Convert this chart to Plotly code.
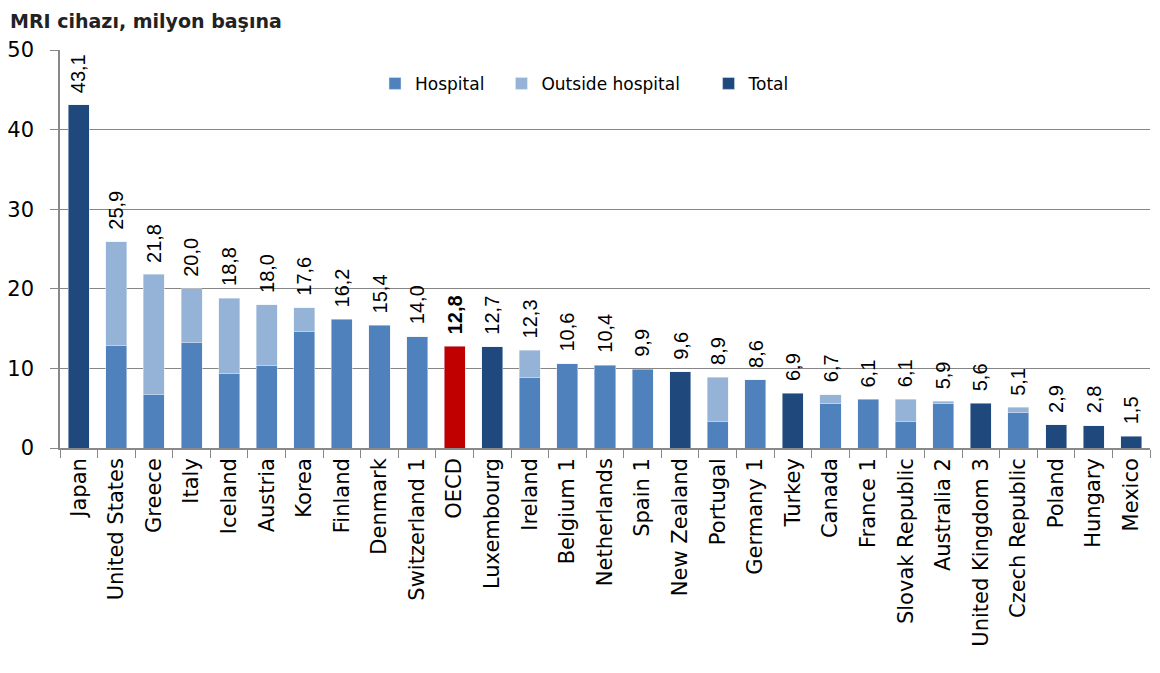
import plotly.graph_objects as go

categories = ["Japan", "United States", "Greece", "Italy", "Iceland", "Austria", "Korea",
              "Finland", "Denmark", "Switzerland 1", "OECD", "Luxembourg", "Ireland",
              "Belgium 1", "Netherlands", "Spain 1", "New Zealand", "Portugal", "Germany 1",
              "Turkey", "Canada", "France 1", "Slovak Republic", "Australia 2",
              "United Kingdom 3", "Czech Republic", "Poland", "Hungary", "Mexico"]

totals = [43.1, 25.9, 21.8, 20.0, 18.8, 18.0, 17.6, 16.2, 15.4, 14.0, 12.8, 12.7, 12.3,
          10.6, 10.4, 9.9, 9.6, 8.9, 8.6, 6.9, 6.7, 6.1, 6.1, 5.9, 5.6, 5.1, 2.9, 2.8, 1.5]

# bar type: H = hospital only, S = split hospital/outside, T = total only, O = OECD
bar_types = ["T", "S", "S", "S", "S", "S", "S", "H", "H", "H", "O", "T", "S",
             "H", "H", "H", "T", "S", "H", "T", "S", "H", "S", "S", "T", "S", "T", "T", "T"]

hospital_part = [None, 12.9, 6.7, 13.2, 9.4, 10.4, 14.6, None, None, None, None, None, 8.9,
                 None, None, None, None, 3.3, None, None, 5.6, None, 3.3, 5.6, None, 4.4,
                 None, None, None]

hospital = []
outside = []
total_only = []
oecd = []
for t, bt, hp in zip(totals, bar_types, hospital_part):
    if bt == "H":
        hospital.append(t); outside.append(None); total_only.append(None); oecd.append(None)
    elif bt == "S":
        hospital.append(hp); outside.append(round(t - hp, 1)); total_only.append(None); oecd.append(None)
    elif bt == "T":
        hospital.append(None); outside.append(None); total_only.append(t); oecd.append(None)
    else:
        hospital.append(None); outside.append(None); total_only.append(None); oecd.append(t)

c_hosp = "#4F81BD"
c_out = "#95B3D7"
c_tot = "#1F497D"
c_oecd = "#C00000"

fig = go.Figure()
fig.add_trace(go.Bar(x=categories, y=hospital, name="Hospital", marker_color=c_hosp,
                     legend="legend"))
fig.add_trace(go.Bar(x=categories, y=outside, name="Outside hospital", marker_color=c_out,
                     legend="legend2"))
fig.add_trace(go.Bar(x=categories, y=total_only, name="Total", marker_color=c_tot,
                     legend="legend3"))
fig.add_trace(go.Bar(x=categories, y=oecd, name="OECD", marker_color=c_oecd, showlegend=False))

for cat, t, bt in zip(categories, totals, bar_types):
    label = f"{t:.1f}".replace(".", ",")
    if bt == "O":
        label = f"<b>{label}</b>"
    fig.add_annotation(x=cat, y=t, text=label, textangle=-90, showarrow=False,
                       yanchor="bottom", yshift=10,
                       font=dict(family="Liberation Sans, Arial", size=20, color="#000000"))

fig.add_annotation(x=0, xref="paper", xanchor="left", xshift=-52,
                   y=1, yref="paper", yanchor="bottom", yshift=16,
                   text="<b>MRI cihazı, milyon başına</b>", showarrow=False,
                   font=dict(family="DejaVu Sans", size=19, color="#222222"))

leg_common = dict(orientation="h", y=0.915, yanchor="middle", xanchor="left",
                  font=dict(family="DejaVu Sans", size=17, color="#000000"),
                  bgcolor="rgba(0,0,0,0)", itemwidth=30)

fig.update_layout(
    width=1160, height=673,
    barmode="stack", bargap=0.44,
    plot_bgcolor="white", paper_bgcolor="white",
    margin=dict(l=52, r=18, t=42, b=233, autoexpand=False),
    font=dict(family="DejaVu Sans", color="#000000"),
    legend=dict(x=0.289, **leg_common),
    legend2=dict(x=0.405, **leg_common),
    legend3=dict(x=0.595, **leg_common),
    showlegend=True,
)
fig.update_xaxes(type="category", tickangle=-90, tickson="boundaries", ticks="outside",
                 ticklen=8, tickcolor="#888888", showline=True, linecolor="#888888",
                 linewidth=1.5, automargin=False,
                 tickfont=dict(family="DejaVu Sans", size=21, color="#000000"))
fig.update_yaxes(range=[0, 50], dtick=10, showgrid=True, gridcolor="#868686", gridwidth=1,
                 showline=True, linecolor="#888888", linewidth=1.5, ticks="outside", ticklen=8,
                 tickcolor="#888888", zeroline=False, automargin=False, ticklabelstandoff=12,
                 tickfont=dict(family="DejaVu Sans", size=21, color="#000000"))

fig.write_html("out.html")
